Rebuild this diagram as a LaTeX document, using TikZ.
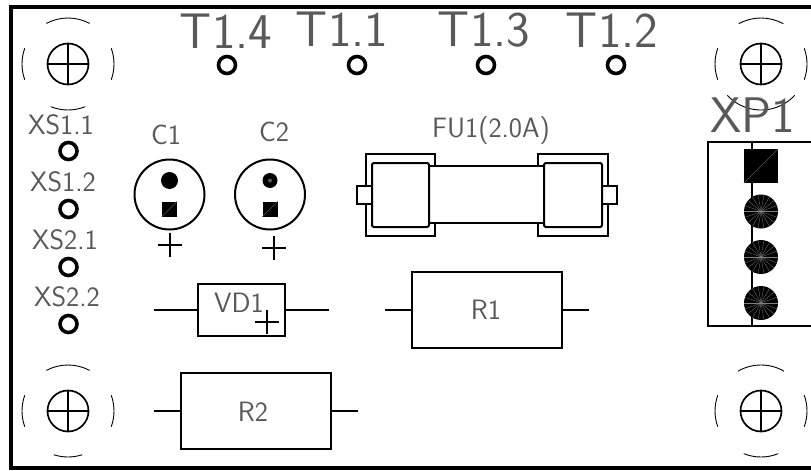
\documentclass[tikz,border=0pt]{standalone}
\usepackage{tikz}
\usetikzlibrary{shapes, positioning}

\tikzset{
    part/.style={draw, rectangle, line width=2pt, inner sep=0pt, outer sep=0pt},
    pad/.style={draw, circle, line width=3.6pt, minimum size=17pt, inner sep=0pt},
    hole/.style={draw, circle, line width=1.7pt, minimum size=41pt, inner sep=0pt},
    capbody/.style={draw, circle, line width=2pt, minimum size=70pt, inner sep=0pt},
    dot/.style={circle, fill=black, inner sep=0pt},
    solder/.style={rectangle, fill=black, inner sep=0pt},
    hairline/.style={line width=0.5pt, color=black!65},
    lead/.style={line width=2pt},
    biglabel/.style={font=\fontsize{50}{50}\selectfont\sffamily, text=black!65, anchor=base, inner sep=0pt},
    smalllabel/.style={font=\fontsize{28}{28}\selectfont\sffamily, text=black!65, anchor=base, inner sep=0pt}
}

\begin{document}
\begin{tikzpicture}[x=1pt, y=-1pt]
    \useasboundingbox (0,0) rectangle (811,471);

    \coordinate (FrameTop) at (815,7);
    \coordinate (FrameBot) at (815,468);
    \draw [line width=3.8pt] (FrameTop) -- (11,7) -- (11,468) -- (FrameBot);

    \foreach \hname/\hx/\hy/\hbot/\htop in {A/68/64/22/28, B/761/64/47/29, C/68/411/18/28, D/761/411/22/30} {
        \node [hole] (hole\hname) at (\hx,\hy) {};
        \draw [line width=1.1pt] (hole\hname.north) -- (hole\hname.south);
        \draw [line width=1.1pt] (hole\hname.west) -- (hole\hname.east);
        \draw [line width=0.9pt] (\hx,\hy) ++(270-\htop:46) arc (270-\htop:270+\htop:46);
        \draw [line width=0.9pt] (\hx,\hy) ++(90-\hbot:46) arc (90-\hbot:90+\hbot:46);
        \draw [line width=0.9pt] (\hx,\hy) ++(160:46) arc (160:200:46);
        \draw [line width=0.9pt] (\hx,\hy) ++(-20:46) arc (-20:20:46);
    }

    \foreach \pname/\px/\py in {TA/227/65, TB/357/65, TC/486/65, TD/616/65, XA/68.5/151, XB/68.5/209, XC/68.5/267, XD/68.5/324} {
        \node [pad] (\pname) at (\px,\py) {};
    }

    \node [biglabel] (labTA) at (226,48) {T1.4};
    \node [biglabel] (labTB) at (342,46) {T1.1};
    \node [biglabel] (labTC) at (484,46) {T1.3};
    \node [biglabel] (labTD) at (612,47) {T1.2};
    \node [biglabel] (labXP) at (753,132) {XP1};

    \node [smalllabel] (labXA) at (61,134) {XS1.1};
    \node [smalllabel] (labXB) at (63,191) {XS1.2};
    \node [smalllabel] (labXC) at (65,249) {XS2.1};
    \node [smalllabel] (labXD) at (67,306) {XS2.2};
    \node [smalllabel] (labCA) at (166,144) {C1};
    \node [smalllabel] (labCB) at (274,141) {C2};
    \node [smalllabel] (labFU) at (491,137) {FU1(2.0A)};
    \node [smalllabel] (labRA) at (486,319) {R1};
    \node [smalllabel] (labRB) at (253,421) {R2};

    \foreach \cname/\cx/\dsize/\plusx/\plusy in {A/169.5/17/170/245, B/270/15/274/248} {
        \node [capbody] (cap\cname) at (\cx,194.5) {};
        \node [dot, minimum size=\dsize pt] (capdot\cname) at (\cx,180.5) {};
        \node [solder, minimum size=15pt] (capsq\cname) at (\cx,209) {};
        \draw [hairline] (capsq\cname.south west) -- (capsq\cname.north east);
        \coordinate (plus\cname) at (\plusx,\plusy);
        \draw [line width=1.5pt] (plus\cname) ++(-12,0) -- ++(24,0);
        \draw [line width=1.5pt] (plus\cname) ++(0,-12) -- ++(0,24);
    }
    \node [dot, fill=black!65, minimum size=4pt] (capmidB) at (capdotB) {};

    \node [part, minimum width=87pt, minimum height=52pt] (VD) at (241.5,310) {};
    \node [smalllabel] (labVD) at (239,312) {VD1};
    \coordinate (VDleft) at (154,310);
    \coordinate (VDright) at (329,310);
    \draw [lead] (VDleft) -- (VD.west);
    \draw [lead] (VD.east) -- (VDright);
    \coordinate (VDplus) at (267,322);
    \draw [line width=1.8pt] (VDplus) ++(-12,0) -- ++(24,0);
    \draw [line width=1.8pt] (VDplus) ++(0,-12) -- ++(0,24);

    \node [part, minimum width=150pt, minimum height=76pt] (R1) at (487,310) {};
    \coordinate (R1left) at (385,310);
    \coordinate (R1right) at (589,310);
    \draw [lead] (R1left) -- (R1.west);
    \draw [lead] (R1.east) -- (R1right);

    \node [part, minimum width=150pt, minimum height=76pt] (R2) at (256,411) {};
    \coordinate (R2left) at (154,411);
    \coordinate (R2right) at (358,411);
    \draw [lead] (R2left) -- (R2.west);
    \draw [lead] (R2.east) -- (R2right);

    \node [part, minimum width=115pt, minimum height=57pt] (tube) at (486.5,194.5) {};
    \node [part, fill=white, minimum width=57pt, minimum height=64pt, rounded corners=2pt] (capL) at (400.5,195) {};
    \node [part, fill=white, minimum width=58pt, minimum height=64pt, rounded corners=2pt] (capR) at (573,195) {};
    \node [part, minimum width=15pt, minimum height=18pt, anchor=east] (tabL) at (capL.west) {};
    \node [part, minimum width=15pt, minimum height=18pt, anchor=west] (tabR) at (capR.east) {};
    \draw [lead] (435,166) -- (435,154) -- (366,154) -- (366,186) -- (capL.west |- 366,186);
    \draw [lead] (435,223) -- (435,236) -- (366,236) -- (366,204) -- (capL.west |- 366,204);
    \draw [lead] (538,166) -- (538,154) -- (608,154) -- (608,186) -- (capR.east |- 608,186);
    \draw [lead] (538,223) -- (538,236) -- (608,236) -- (608,204) -- (capR.east |- 608,204);

    \coordinate (XPtop) at (815,142);
    \coordinate (XPbot) at (815,326);
    \draw [lead] (XPtop) -- (708,142) coordinate (XPtl) -- (708,326) -- (XPbot);
    \coordinate (XPstem) at (752,326);
    \draw [lead] (XPstem) -- (XPstem |- XPtl);
    \node [solder, minimum size=34pt] (XPsq) at (761,166) {};
    \draw [hairline] (XPsq.south west) -- (XPsq.north east);
    \foreach \dname/\dy in {A/211.5, B/257, C/303} {
        \node [dot, minimum size=34pt] (XPdot\dname) at (761,\dy) {};
        \foreach \ang in {0,20,...,340} {
            \draw [line width=0.3pt, color=black!50] (XPdot\dname.center) -- (XPdot\dname.\ang);
        }
    }
\end{tikzpicture}
\end{document}
